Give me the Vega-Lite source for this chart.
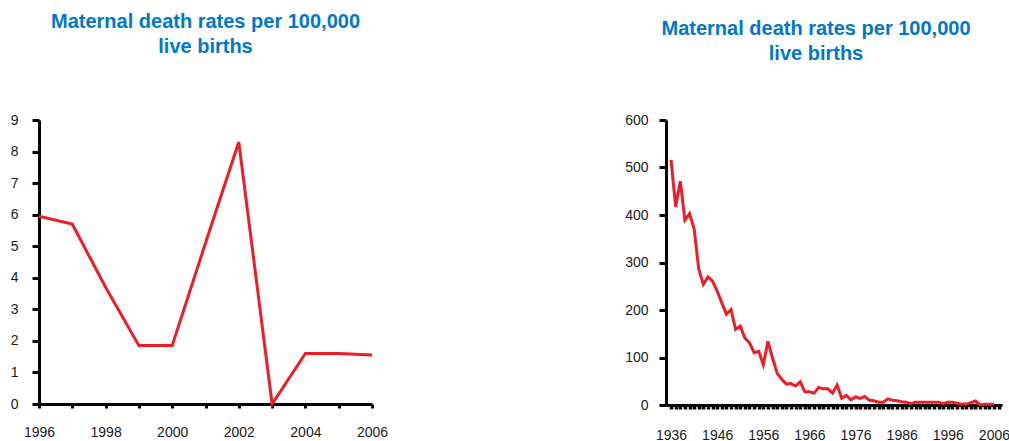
{
  "$schema": "https://vega.github.io/schema/vega-lite/v6.json",
  "padding": {"left": 10, "top": 12, "right": 0, "bottom": 0},
  "background": "white",
  "spacing": 236,
  "datasets": {
    "recent": [
      {"year": 1996, "rate": 5.95},
      {"year": 1997, "rate": 5.7},
      {"year": 1998, "rate": 3.7},
      {"year": 1999, "rate": 1.85},
      {"year": 2000, "rate": 1.85},
      {"year": 2001, "rate": 5.1},
      {"year": 2002, "rate": 8.3},
      {"year": 2003, "rate": 0},
      {"year": 2004, "rate": 1.6},
      {"year": 2005, "rate": 1.6},
      {"year": 2006, "rate": 1.55}
    ],
    "history": [
      {"year": 1936, "rate": 516},
      {"year": 1937, "rate": 417},
      {"year": 1938, "rate": 471},
      {"year": 1939, "rate": 389},
      {"year": 1940, "rate": 403},
      {"year": 1941, "rate": 371},
      {"year": 1942, "rate": 286},
      {"year": 1943, "rate": 254},
      {"year": 1944, "rate": 270},
      {"year": 1945, "rate": 261},
      {"year": 1946, "rate": 240},
      {"year": 1947, "rate": 215},
      {"year": 1948, "rate": 191},
      {"year": 1949, "rate": 201},
      {"year": 1950, "rate": 159},
      {"year": 1951, "rate": 166},
      {"year": 1952, "rate": 141},
      {"year": 1953, "rate": 131},
      {"year": 1954, "rate": 110},
      {"year": 1955, "rate": 113},
      {"year": 1956, "rate": 85},
      {"year": 1957, "rate": 134},
      {"year": 1958, "rate": 99},
      {"year": 1959, "rate": 67},
      {"year": 1960, "rate": 54},
      {"year": 1961, "rate": 44},
      {"year": 1962, "rate": 45},
      {"year": 1963, "rate": 40},
      {"year": 1964, "rate": 49},
      {"year": 1965, "rate": 28},
      {"year": 1966, "rate": 28},
      {"year": 1967, "rate": 25},
      {"year": 1968, "rate": 37},
      {"year": 1969, "rate": 34},
      {"year": 1970, "rate": 34},
      {"year": 1971, "rate": 25},
      {"year": 1972, "rate": 42},
      {"year": 1973, "rate": 14},
      {"year": 1974, "rate": 20},
      {"year": 1975, "rate": 11},
      {"year": 1976, "rate": 17},
      {"year": 1977, "rate": 14},
      {"year": 1978, "rate": 18},
      {"year": 1979, "rate": 10},
      {"year": 1980, "rate": 9},
      {"year": 1981, "rate": 6},
      {"year": 1982, "rate": 6},
      {"year": 1983, "rate": 13},
      {"year": 1984, "rate": 10},
      {"year": 1985, "rate": 9},
      {"year": 1986, "rate": 7},
      {"year": 1987, "rate": 6},
      {"year": 1988, "rate": 3},
      {"year": 1989, "rate": 6},
      {"year": 1990, "rate": 6},
      {"year": 1991, "rate": 6},
      {"year": 1992, "rate": 6},
      {"year": 1993, "rate": 6},
      {"year": 1994, "rate": 6},
      {"year": 1995, "rate": 3},
      {"year": 1996, "rate": 5.95},
      {"year": 1997, "rate": 5.7},
      {"year": 1998, "rate": 3.7},
      {"year": 1999, "rate": 1.85},
      {"year": 2000, "rate": 1.85},
      {"year": 2001, "rate": 5.1},
      {"year": 2002, "rate": 8.3},
      {"year": 2003, "rate": 0},
      {"year": 2004, "rate": 1.6},
      {"year": 2005, "rate": 1.6},
      {"year": 2006, "rate": 1.55}
    ]
  },
  "config": {
    "view": {"stroke": null},
    "axis": {
      "domainColor": "#000000",
      "domainWidth": 3,
      "tickColor": "#000000",
      "tickWidth": 3,
      "grid": false,
      "labelFont": "Liberation Sans",
      "labelFontSize": 14,
      "labelColor": "#1a1a1a",
      "labelOverlap": false,
      "labelFlush": false,
      "title": null
    },
    "title": {
      "color": "#0077c8",
      "font": "Liberation Sans",
      "fontSize": 20,
      "fontWeight": "bold",
      "lineHeight": 25,
      "anchor": "middle"
    }
  },
  "hconcat": [
    {
      "width": 333,
      "height": 284,
      "title": {"text": ["Maternal death rates per 100,000", "live births"], "offset": 56},
      "data": {"name": "recent"},
      "mark": {"type": "line", "color": "#ee1c25", "strokeWidth": 3},
      "encoding": {
        "x": {
          "field": "year", "type": "quantitative",
          "scale": {"domain": [1996, 2006], "nice": false, "zero": false},
          "axis": {
            "values": [1996, 1997, 1998, 1999, 2000, 2001, 2002, 2003, 2004, 2005, 2006],
            "format": "d",
            "labelExpr": "datum.value % 2 == 0 ? datum.label : ''",
            "tickSize": 4,
            "labelPadding": 17
          }
        },
        "y": {
          "field": "rate", "type": "quantitative",
          "scale": {"domain": [0, 9], "nice": false},
          "axis": {
            "values": [0, 1, 2, 3, 4, 5, 6, 7, 8, 9],
            "tickSize": 7,
            "labelPadding": 14
          }
        }
      }
    },
    {
      "width": 336,
      "height": 285,
      "title": {"text": ["Maternal death rates per 100,000", "live births"], "offset": 49, "dx": -18},
      "data": {"name": "history"},
      "mark": {"type": "line", "color": "#ee1c25", "strokeWidth": 3},
      "encoding": {
        "x": {
          "field": "year", "type": "quantitative",
          "scale": {"domain": [1934.9, 2007.75], "nice": false, "zero": false},
          "axis": {
            "values": [1936, 1937, 1938, 1939, 1940, 1941, 1942, 1943, 1944, 1945, 1946, 1947, 1948, 1949, 1950, 1951, 1952, 1953, 1954, 1955, 1956, 1957, 1958, 1959, 1960, 1961, 1962, 1963, 1964, 1965, 1966, 1967, 1968, 1969, 1970, 1971, 1972, 1973, 1974, 1975, 1976, 1977, 1978, 1979, 1980, 1981, 1982, 1983, 1984, 1985, 1986, 1987, 1988, 1989, 1990, 1991, 1992, 1993, 1994, 1995, 1996, 1997, 1998, 1999, 2000, 2001, 2002, 2003, 2004, 2005, 2006, 2007],
            "format": "d",
            "labelExpr": "(datum.value - 1936) % 10 == 0 ? datum.label : ''",
            "tickSize": 4,
            "tickWidth": 3.5,
            "labelPadding": 19
          }
        },
        "y": {
          "field": "rate", "type": "quantitative",
          "scale": {"domain": [0, 600], "nice": false},
          "axis": {
            "values": [0, 100, 200, 300, 400, 500, 600],
            "tickSize": 7,
            "labelPadding": 11
          }
        }
      }
    }
  ]
}
